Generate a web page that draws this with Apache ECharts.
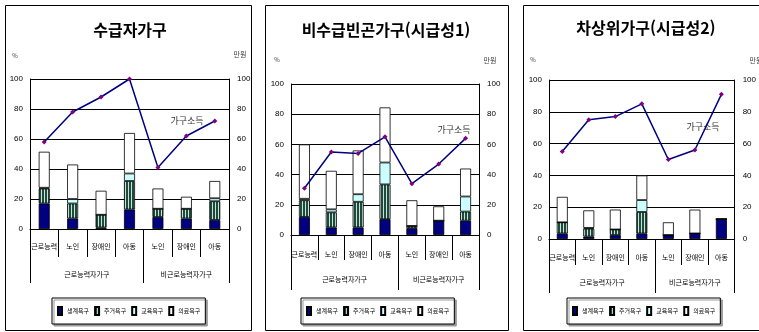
<!DOCTYPE html>
<html lang="ko">
<head>
<meta charset="UTF-8">
<title>가구유형별 욕구와 가구소득</title>
<script src="https://cdn.jsdelivr.net/npm/echarts@6/dist/echarts.min.js"></script>
<style>
    html, body { margin: 0; padding: 0; background: #fff; }
    #chart { width: 759px; height: 332px; }
</style>
</head>
<body>
<div id="chart"></div>
<script>
// 범주 / 계열 이름
var categories = ['근로능력', '노인', '장애인', '아동', '노인', '장애인', '아동'];
var groups = ['근로능력자가구', '비근로능력자가구'];
var needNames = ['생계욕구', '주거욕구', '교육욕구', '의료욕구'];
var incomeName = '가구소득';
var titles = ['수급자가구', '비수급빈곤가구(시급성1)', '차상위가구(시급성2)'];
var yTicks = [0, 20, 40, 60, 80, 100];

// 수급자가구
var p1Living  = [17, 7, 1, 13, 8, 7, 6];
var p1Housing = [10, 10, 8.5, 19, 5.5, 6.5, 12.5];
var p1Edu     = [0.5, 3, 0, 5, 0, 0, 2];
var p1Medical = [24, 23, 16, 27, 13.5, 8, 11.5];
var p1Income  = [58, 78, 88, 100, 41, 62, 72];

// 비수급빈곤가구(시급성1)
var p2Living  = [12, 5, 5, 10.5, 4.5, 9.5, 9.5];
var p2Housing = [11, 10, 17, 23, 1.5, 0, 6];
var p2Edu     = [1, 2, 5, 14.5, 0, 0, 10];
var p2Medical = [36, 25.5, 29, 36.5, 17, 9.5, 18.5];
var p2Income  = [31, 55, 54, 65, 34, 47, 64];

// 차상위가구(시급성2)
var p3Living  = [3.5, 1.5, 2.5, 3.5, 2.5, 3.5, 12.5];
var p3Housing = [7, 5, 3.5, 13.5, 0, 0, 0];
var p3Edu     = [0, 0.5, 0, 7.5, 0, 0, 0];
var p3Medical = [16, 11, 12.5, 15.5, 8, 15, 0];
var p3Income  = [55, 75, 77, 85, 50, 56, 91];

var panelData = [
    [p1Living, p1Housing, p1Edu, p1Medical, p1Income],
    [p2Living, p2Housing, p2Edu, p2Medical, p2Income],
    [p3Living, p3Housing, p3Edu, p3Medical, p3Income]
];

// 패널 배치 (px)
var layout = [
    {box: [5, 5, 246, 325], grid: [30, 79, 199, 150], title: [130, 30], shortTick: 28, longTick: 54, catMargin: 14, grpMargin: 42,
     pct: [15, 56], won: [240, 54], incLabel: [187, 121], legend: [52, 298]},
    {box: [265, 5, 243, 325], grid: [291, 84, 188, 151], title: [386, 30], shortTick: 25, longTick: 55, catMargin: 16, grpMargin: 41,
     pct: [277, 60], won: [490, 60], incLabel: [454, 130], legend: [301, 298]},
    {box: [523, 5, 260, 325], grid: [549, 80, 196, 159], title: [646, 28], shortTick: 26, longTick: 54, catMargin: 15, grpMargin: 40,
     pct: [533, 60], won: [756, 60], incLabel: [703, 127], legend: [567, 298]}
];

// 주거욕구 세로 줄무늬
var stripe = document.createElement('canvas');
stripe.width = 3;
stripe.height = 4;
var sctx = stripe.getContext('2d');
sctx.fillStyle = '#1d4a3a';
sctx.fillRect(0, 0, 3, 4);
sctx.fillStyle = '#c6e4da';
sctx.fillRect(2, 0, 1, 4);

var needColors = ['#000080', {image: stripe, repeat: 'repeat'}, '#ccffff', '#ffffff'];
var fontKR = '"Noto Sans CJK KR", "Noto Sans", sans-serif';

var grids = [], xAxes = [], yAxes = [], series = [], legends = [], graphics = [];

layout.forEach(function (L, i) {
    grids.push({left: L.grid[0], top: L.grid[1], width: L.grid[2], height: L.grid[3]});

    xAxes.push({
        gridIndex: i, type: 'category', position: 'bottom', data: categories,
        axisLine: {lineStyle: {color: '#000', width: 1}},
        axisTick: {show: true, interval: 0, length: L.shortTick, lineStyle: {color: '#000'}},
        axisLabel: {interval: 0, fontSize: 7, margin: L.catMargin, color: '#000', fontFamily: fontKR}
    });
    xAxes.push({
        gridIndex: i, type: 'value', position: 'bottom', min: 0, max: 7,
        axisLine: {show: false}, splitLine: {show: false},
        axisTick: {show: true, customValues: [0, 4, 7], length: L.longTick, lineStyle: {color: '#000'}},
        axisLabel: {
            customValues: [2, 5.5], fontSize: 7, margin: L.grpMargin, color: '#000', fontFamily: fontKR,
            formatter: function (v) { return v < 4 ? groups[0] : groups[1]; }
        }
    });

    yAxes.push({
        gridIndex: i, type: 'value', position: 'left', min: 0, max: 100, interval: 20,
        axisLine: {show: true, lineStyle: {color: '#000'}},
        axisTick: {show: false},
        splitLine: {show: true, lineStyle: {color: '#000', width: 1}},
        axisLabel: {fontSize: 8, margin: 7, color: '#000', fontFamily: 'Arial, sans-serif'}
    });
    yAxes.push({
        gridIndex: i, type: 'value', position: 'right', min: 0, max: 100, interval: 20,
        axisLine: {show: true, lineStyle: {color: '#000'}},
        axisTick: {show: false},
        splitLine: {show: false},
        axisLabel: {fontSize: 8, margin: 8, color: '#000', fontFamily: 'Arial, sans-serif'}
    });

    needNames.forEach(function (name, k) {
        series.push({
            name: name, type: 'bar', stack: 'need' + i,
            xAxisIndex: 2 * i, yAxisIndex: 2 * i,
            barWidth: 11,
            itemStyle: {color: needColors[k], borderColor: '#000', borderWidth: 0.8},
            data: panelData[i][k]
        });
    });
    series.push({
        name: incomeName, type: 'line',
        xAxisIndex: 2 * i, yAxisIndex: 2 * i + 1,
        symbol: 'diamond', symbolSize: 5,
        lineStyle: {color: '#000080', width: 1.5},
        itemStyle: {color: '#800080'},
        z: 5,
        data: panelData[i][4]
    });

    legends.push({
        data: needNames, left: L.legend[0], top: L.legend[1],
        orient: 'horizontal', selectedMode: false,
        icon: 'rect', itemWidth: 4, itemHeight: 8, itemGap: 5,
        padding: [8, 5],
        borderColor: '#000', borderWidth: 1, backgroundColor: '#fff',
        shadowColor: '#999', shadowOffsetX: 2, shadowOffsetY: 2,
        textStyle: {fontSize: 6, color: '#000', fontFamily: fontKR}
    });

    graphics.push({
        type: 'rect', z: -1,
        shape: {x: L.box[0] + 0.5, y: L.box[1] + 0.5, width: L.box[2], height: L.box[3]},
        style: {fill: 'none', stroke: '#000', lineWidth: 1}
    });
    graphics.push({
        type: 'text', x: L.title[0], y: L.title[1],
        style: {text: titles[i], fontSize: 16, fontWeight: 'bold', fill: '#000', fontFamily: fontKR,
                align: 'center', verticalAlign: 'middle'}
    });
    graphics.push({
        type: 'text', x: L.pct[0], y: L.pct[1],
        style: {text: '%', fontSize: 6, fill: '#444', fontFamily: fontKR, align: 'center', verticalAlign: 'middle'}
    });
    graphics.push({
        type: 'text', x: L.won[0], y: L.won[1],
        style: {text: '만원', fontSize: 7, fill: '#444', fontFamily: fontKR, align: 'center', verticalAlign: 'middle'}
    });
    graphics.push({
        type: 'text', x: L.incLabel[0], y: L.incLabel[1],
        style: {text: incomeName, fontSize: 9, fill: '#333', fontFamily: fontKR, align: 'center', verticalAlign: 'middle'}
    });
});

var myChart = echarts.init(document.getElementById('chart'));
var option = {
    backgroundColor: '#fff',
    animation: false,
    textStyle: {fontFamily: fontKR},
    grid: grids,
    xAxis: xAxes,
    yAxis: yAxes,
    legend: legends,
    series: series,
    graphic: graphics
};
myChart.setOption(option);
</script>
</body>
</html>
